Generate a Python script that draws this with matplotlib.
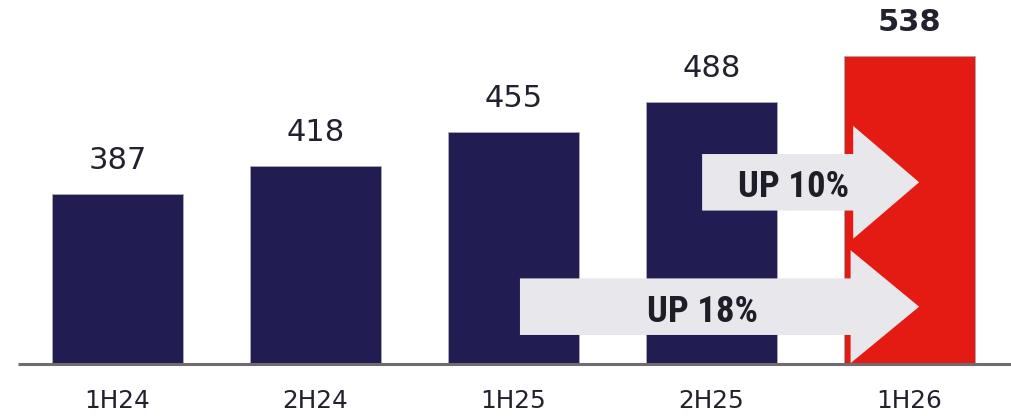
import matplotlib
matplotlib.use("Agg")
import matplotlib.pyplot as plt
from matplotlib.patches import Polygon
from matplotlib import font_manager
import numpy as np

# Half-year figures
periods = ["1H24", "2H24", "1H25", "2H25", "1H26"]
values = [387, 418, 455, 488, 538]
bar_colors = ["#211d52", "#211d52", "#211d52", "#211d52", "#e31b13"]
label_weights = ["normal", "normal", "normal", "normal", "bold"]

# Growth call-outs: (label, start period index, end period index)
growth = [("UP 10%", 3, 4), ("UP 18%", 2, 4)]

BASE = 201          # value at the baseline of the truncated axis
TOP = 599.6

installed = {f.name for f in font_manager.fontManager.ttflist}
narrow_candidates = ["Roboto Condensed", "Liberation Sans Narrow", "DejaVu Sans"]
narrow = next(f for f in narrow_candidates if f in installed)

fig = plt.figure(figsize=(10.11, 4.16), dpi=100)
ax = fig.add_axes([0, 52.5 / 416, 1, 363.5 / 416])
ax.set_xlim(-0.593, 4.513)
ax.set_ylim(BASE, TOP)
ax.axis("off")

x = np.arange(len(periods))
vals = np.array(values, dtype=float)
ax.bar(x, vals - BASE, bottom=BASE, width=0.662, color=bar_colors,
       edgecolor="#a9a8b4", linewidth=0.7, zorder=2)

# Baseline
ax.plot([-0.5, 4.513], [BASE, BASE], color="#6f6b70", lw=2.2,
        solid_capstyle="butt", zorder=3, clip_on=False)

text_color = "#22222e"
px_per_unit = 0.912  # pixels per value unit on the y axis
for xi, v, w in zip(x, values, label_weights):
    ax.text(xi, v + 19 / px_per_unit, f"{v}", ha="center", va="bottom",
            fontsize=22, fontweight=w, color=text_color,
            family="DejaVu Sans")

for xi, p in zip(x, periods):
    ax.text(xi, BASE - 26 / px_per_unit, p, ha="center", va="top",
            fontsize=17.8, color=text_color, family="DejaVu Sans")


def growth_arrow(label, yc, body_half, head_half, x_left, x_head, x_tip, x_text):
    pts = [(x_left, yc + body_half), (x_head, yc + body_half),
           (x_head, yc + head_half), (x_tip, yc),
           (x_head, yc - head_half), (x_head, yc - body_half),
           (x_left, yc - body_half)]
    ax.add_patch(Polygon(pts, closed=True, facecolor="#e8e7ec",
                         edgecolor="none", zorder=4))
    ax.text(x_text, yc - 1, label, ha="center",
            va="center_baseline", fontsize=26.5, fontweight="bold",
            color="#1e1e28", family=[narrow, "DejaVu Sans"], zorder=5)


body_half = 31.0
head_half = 61.9
tip_x = x[4] + 0.049
head_x = x[4] - 0.284
# upper arrow: 2H25 -> 1H26
growth_arrow(growth[0][0], 399.7, body_half, head_half,
             x[growth[0][1]] - 0.047, head_x, tip_x, 3.417)
# lower arrow: 1H25 -> 1H26, head resting on the baseline
growth_arrow(growth[1][0], 263.3, body_half, head_half,
             x[growth[1][1]] + 0.033, head_x - 0.013, tip_x, 2.955)

fig.savefig("out.png", dpi=100)
